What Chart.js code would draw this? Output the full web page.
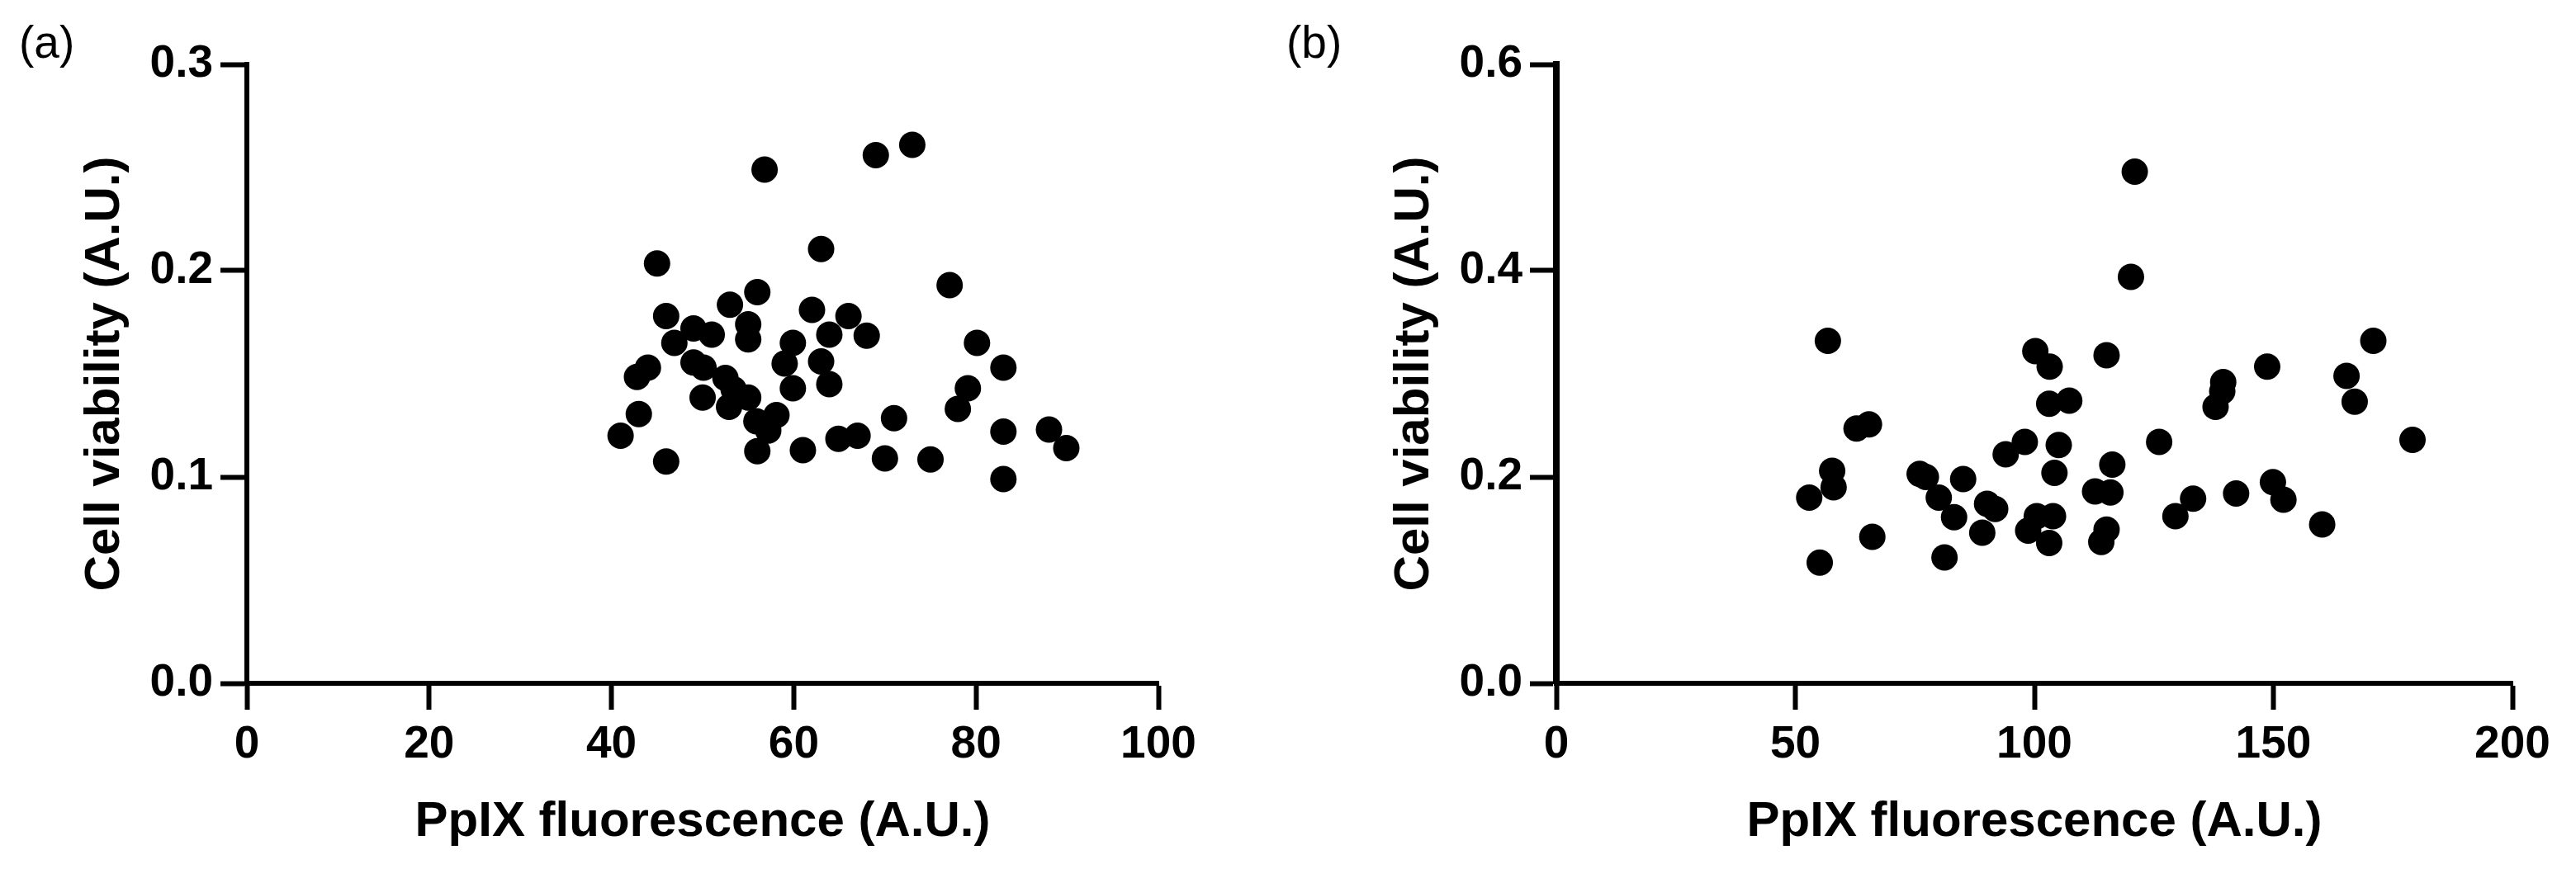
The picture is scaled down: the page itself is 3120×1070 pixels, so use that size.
<!DOCTYPE html>
<html>
<head>
<meta charset="utf-8">
<title>PpIX fluorescence vs cell viability</title>
<script src="https://cdn.jsdelivr.net/npm/chart.js@4.4.1/dist/chart.umd.min.js"></script>
<style>
  body { margin: 0; background: #fff; }
  #wrap { position: relative; width: 3120px; height: 1070px; overflow: hidden; background: #fff; }
  #chartA { position: absolute; left: 23px; top: 0; }
  #chartB { position: absolute; left: 1558px; top: 0; }
</style>
</head>
<body>
<div id="wrap">
  <canvas id="chartA" width="1537" height="1070"></canvas>
  <canvas id="chartB" width="1562" height="1070"></canvas>
</div>
<script>
// panel (a) - PpIX fluorescence vs cell viability
var ppixA = [41.0, 42.8, 43.0, 44.0, 45.0, 46.0, 46.0, 46.9, 49.0, 49.0,
             50.1, 50.0, 51.0, 52.5, 53.0, 53.4, 52.9, 55.0, 55.0, 55.0,
             56.0, 55.9, 57.2, 58.1, 56.0, 56.8, 59.0, 59.9, 59.9, 61.0,
             62.0, 63.0, 63.0, 63.9, 63.9, 64.9, 66.0, 67.0, 68.0, 69.0,
             70.0, 71.0, 73.0, 75.0, 77.1, 78.0, 79.1, 80.1, 83.0, 83.0,
             83.0, 88.0, 89.9];
var viabilityA = [0.120, 0.1485, 0.1305, 0.153, 0.2035, 0.178, 0.1075, 0.165, 0.172, 0.1555,
                  0.153, 0.1385, 0.169, 0.148, 0.1835, 0.1425, 0.134, 0.1385, 0.174, 0.1667,
                  0.1896, 0.127, 0.1225, 0.130, 0.1125, 0.249, 0.155, 0.165, 0.143, 0.113,
                  0.181, 0.2105, 0.156, 0.169, 0.145, 0.1185, 0.178, 0.120, 0.1685, 0.256,
                  0.109, 0.1285, 0.261, 0.1085, 0.193, 0.133, 0.143, 0.165, 0.153, 0.122,
                  0.099, 0.123, 0.114];

// panel (b)
var ppixB = [52.9, 55.1, 56.8, 57.7, 58.0, 62.8, 65.4, 66.1, 76.0, 77.3,
             80.0, 81.2, 83.2, 85.1, 89.1, 90.1, 91.8, 94.0, 98.0, 98.7,
             100.2, 100.5, 103.2, 103.1, 103.1, 103.9, 104.2, 105.1, 107.3, 112.7,
             114.0, 115.1, 115.1, 115.9, 116.3, 120.2, 121.0, 126.1, 129.5, 133.2,
             137.9, 139.3, 139.5, 142.2, 148.7, 149.9, 152.1, 160.2, 165.3, 167.0,
             170.9, 179.1];
var viabilityB = [0.180, 0.117, 0.332, 0.206, 0.190, 0.247, 0.251, 0.142, 0.203, 0.200,
                  0.180, 0.122, 0.161, 0.198, 0.146, 0.174, 0.169, 0.222, 0.234, 0.148,
                  0.322, 0.162, 0.307, 0.271, 0.136, 0.162, 0.204, 0.231, 0.274, 0.186,
                  0.137, 0.149, 0.318, 0.185, 0.212, 0.394, 0.496, 0.234, 0.162, 0.179,
                  0.268, 0.283, 0.292, 0.184, 0.307, 0.195, 0.178, 0.154, 0.298, 0.273,
                  0.332, 0.236];

var xTicksA = [0, 20, 40, 60, 80, 100];
var yTicksA = [0.0, 0.1, 0.2, 0.3];
var xTicksB = [0, 50, 100, 150, 200];
var yTicksB = [0.0, 0.2, 0.4, 0.6];

var xTitle = 'PpIX fluorescence (A.U.)';
var yTitle = 'Cell viability (A.U.)';

var FONT = "'Liberation Sans', Arial, Helvetica, sans-serif";

function toPoints(xs, ys) {
  var pts = [];
  for (var i = 0; i < xs.length; i++) {
    pts.push({ x: xs[i], y: ys[i] });
  }
  return pts;
}

function makeChart(canvasId, panel, xs, ys, xTicks, yTicks, axisLeft, padRight, yTitlePad, yBorder) {
  var ctx = document.getElementById(canvasId).getContext('2d');
  return new Chart(ctx, {
    type: 'scatter',
    data: {
      datasets: [{
        data: toPoints(xs, ys),
        backgroundColor: '#000',
        borderColor: '#000',
        borderWidth: 0,
        pointRadius: 16,
        pointHoverRadius: 16
      }]
    },
    options: {
      responsive: false,
      animation: false,
      events: [],
      layout: { padding: { left: 0, top: 0, right: padRight, bottom: 0 } },
      plugins: {
        legend: { display: false },
        tooltip: { enabled: false },
        title: {
          // panel letter, top left
          display: true,
          text: panel,
          align: 'start',
          color: '#000',
          font: { family: FONT, size: 55, weight: 'normal', lineHeight: 0.8 },
          padding: { top: 33, bottom: 1 }
        }
      },
      scales: {
        x: {
          type: 'linear',
          min: xTicks[0],
          max: xTicks[xTicks.length - 1],
          afterBuildTicks: function (scale) {
            scale.ticks = xTicks.map(function (v) { return { value: v }; });
          },
          afterFit: function (scale) { scale.height = 242; },
          border: { display: true, color: '#000', width: 6 },
          grid: { display: true, drawOnChartArea: false, drawTicks: true, tickLength: 32, tickWidth: 6, tickColor: '#000' },
          ticks: {
            color: '#000', padding: 10, maxRotation: 0, autoSkip: false,
            font: { family: FONT, size: 55, weight: 'bold' },
            callback: function (v) { return String(v); }
          },
          title: {
            display: true, text: xTitle, color: '#000',
            font: { family: FONT, size: 60, weight: 'bold' },
            padding: { top: 0, bottom: 38 }
          }
        },
        y: {
          type: 'linear',
          min: yTicks[0],
          max: yTicks[yTicks.length - 1],
          afterBuildTicks: function (scale) {
            scale.ticks = yTicks.map(function (v) { return { value: v }; });
          },
          afterFit: function (scale) { scale.width = axisLeft; },
          border: { display: true, color: '#000', width: yBorder },
          grid: { display: true, drawOnChartArea: false, drawTicks: true, tickLength: 32, tickWidth: 6, tickColor: '#000' },
          ticks: {
            color: '#000', padding: 9, autoSkip: false,
            font: { family: FONT, size: 55, weight: 'bold' },
            callback: function (v) { return Number(v).toFixed(1); }
          },
          title: {
            display: true, text: yTitle, color: '#000',
            font: { family: FONT, size: 60, weight: 'bold' },
            padding: { top: yTitlePad, bottom: 0 }
          }
        }
      }
    }
  });
}

makeChart('chartA', '(a)', ppixA, viabilityA, xTicksA, yTicksA, 276, 157, 68, 6);
makeChart('chartB', '(b)', ppixB, viabilityB, xTicksB, yTicksB, 327, 77, 119, 8);
</script>
</body>
</html>
